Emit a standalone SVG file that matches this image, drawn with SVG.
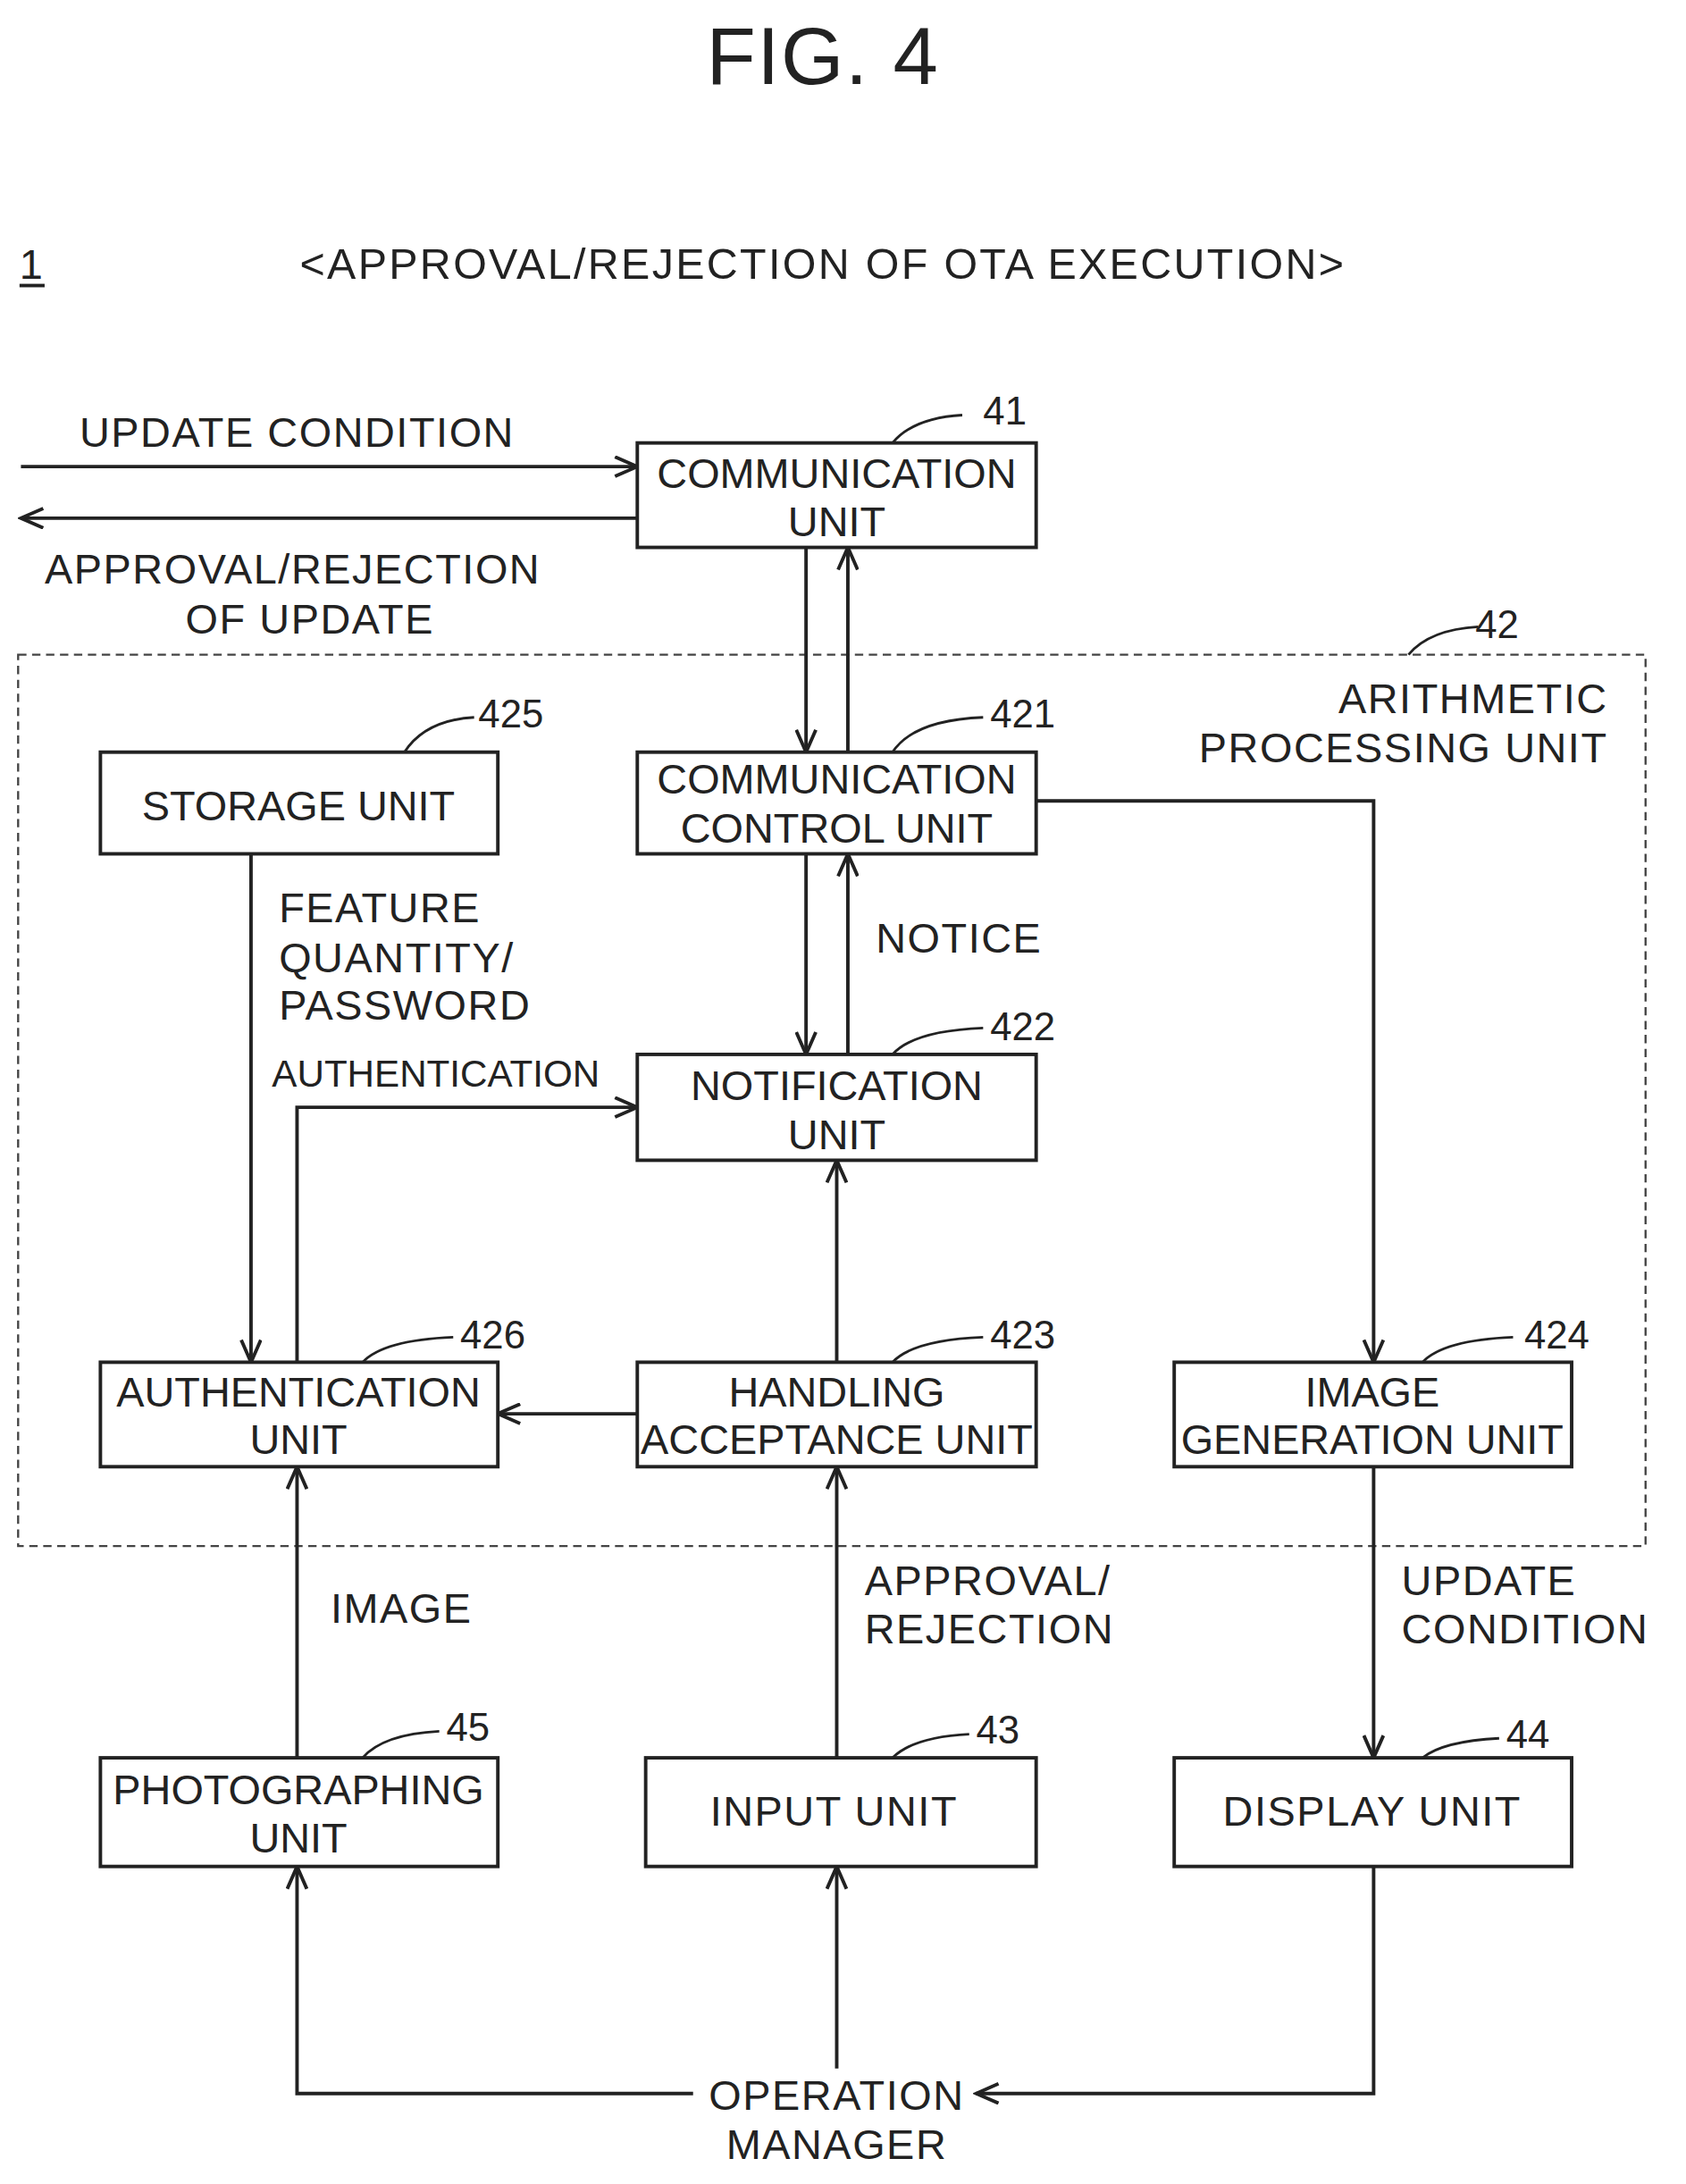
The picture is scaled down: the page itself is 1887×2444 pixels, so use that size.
<svg xmlns="http://www.w3.org/2000/svg" width="1887" height="2444" viewBox="0 0 1887 2444">
<style>
text{font-family:"Liberation Sans",Arial,sans-serif;fill:#222;font-size:30px;letter-spacing:1px}
.c{text-anchor:middle}
.box{fill:#fff;stroke:#222;stroke-width:2.5}
.ln{fill:none;stroke:#222;stroke-width:2.5}
.ld{fill:none;stroke:#222;stroke-width:1.8}
.ref{font-size:28px;letter-spacing:0}
.in{letter-spacing:0}
</style>
<defs>
<marker id="a" markerWidth="20" markerHeight="16" refX="18" refY="8" orient="auto" markerUnits="userSpaceOnUse">
<polyline points="2,1 18,8 2,15" fill="none" stroke="#222" stroke-width="2.5"/>
</marker>
</defs>
<rect width="1887" height="2444" fill="#fff"/>
<g transform="scale(1.5608,1.5587)">
<text x="590" y="60" class="c" style="font-size:58px">FIG. 4</text>
<text x="14" y="200">1</text>
<line x1="14" y1="205" x2="32" y2="205" class="ln" stroke-width="2"/>
<text x="590" y="200" class="c" style="font-size:31px;letter-spacing:1.5px">&lt;APPROVAL/REJECTION OF OTA EXECUTION&gt;</text>
<rect x="13" y="470" width="1167" height="640" fill="none" stroke="#444" stroke-width="1.5" stroke-dasharray="6,4"/>
<g id="conn">
<line x1="15" y1="335" x2="457" y2="335" class="ln" marker-end="url(#a)"/>
<line x1="457" y1="372" x2="15" y2="372" class="ln" marker-end="url(#a)"/>
<line x1="578" y1="393" x2="578" y2="540" class="ln" marker-end="url(#a)"/>
<line x1="608" y1="540" x2="608" y2="393" class="ln" marker-end="url(#a)"/>
<line x1="578" y1="613" x2="578" y2="757" class="ln" marker-end="url(#a)"/>
<line x1="608" y1="757" x2="608" y2="613" class="ln" marker-end="url(#a)"/>
<polyline points="743,575 985,575 985,978" class="ln" marker-end="url(#a)"/>
<line x1="180" y1="613" x2="180" y2="978" class="ln" marker-end="url(#a)"/>
<polyline points="213,978 213,795 457,795" class="ln" marker-end="url(#a)"/>
<line x1="600" y1="978" x2="600" y2="833" class="ln" marker-end="url(#a)"/>
<line x1="457" y1="1015" x2="357" y2="1015" class="ln" marker-end="url(#a)"/>
<line x1="213" y1="1262" x2="213" y2="1053" class="ln" marker-end="url(#a)"/>
<line x1="600" y1="1262" x2="600" y2="1053" class="ln" marker-end="url(#a)"/>
<line x1="985" y1="1053" x2="985" y2="1262" class="ln" marker-end="url(#a)"/>
<line x1="600" y1="1485" x2="600" y2="1340" class="ln" marker-end="url(#a)"/>
<polyline points="985,1340 985,1503 700,1503" class="ln" marker-end="url(#a)"/>
<polyline points="497,1503 213,1503 213,1340" class="ln" marker-end="url(#a)"/>
<path d="M640,318 Q655,300 690,298 M1010,470 Q1025,452 1060,450 M290,540 Q305,517 340,515 M640,540 Q655,517 705,515 M640,757 Q655,740 705,738 M260,978 Q275,962 325,960 M640,978 Q655,962 705,960 M1020,978 Q1035,962 1085,960 M260,1262 Q275,1245 315,1243 M640,1262 Q655,1247 695,1245 M1020,1262 Q1035,1250 1075,1248" class="ld"/>
</g>
<text x="57" y="321">UPDATE CONDITION</text>
<text x="32" y="419">APPROVAL/REJECTION</text>
<text x="133" y="455">OF UPDATE</text>
<text x="628" y="684">NOTICE</text>
<text x="200" y="662">FEATURE</text>
<text x="200" y="698">QUANTITY/</text>
<text x="200" y="732">PASSWORD</text>
<text x="195" y="780" style="font-size:27px;letter-spacing:0">AUTHENTICATION</text>
<text x="237" y="1165">IMAGE</text>
<text x="620" y="1145">APPROVAL/</text>
<text x="620" y="1180">REJECTION</text>
<text x="1005" y="1145">UPDATE</text>
<text x="1005" y="1180">CONDITION</text>
<text x="600" y="1515" class="c">OPERATION</text>
<text x="600" y="1550" class="c">MANAGER</text>
<text x="1153" y="512" style="text-anchor:end">ARITHMETIC</text>
<text x="1153" y="547" style="text-anchor:end">PROCESSING UNIT</text>
<text x="705" y="305" class="ref">41</text>
<text x="1058" y="458" class="ref">42</text>
<text x="343" y="522" class="ref">425</text>
<text x="710" y="522" class="ref">421</text>
<text x="710" y="747" class="ref">422</text>
<text x="330" y="968" class="ref">426</text>
<text x="710" y="968" class="ref">423</text>
<text x="1093" y="968" class="ref">424</text>
<text x="320" y="1250" class="ref">45</text>
<text x="700" y="1252" class="ref">43</text>
<text x="1080" y="1255" class="ref">44</text>
<g id="n41" class="in"><rect x="457" y="318" width="286" height="75" class="box"/><text x="600" y="350" class="c in">COMMUNICATION</text><text x="600" y="385" class="c in">UNIT</text></g>
<g id="n425"><rect x="72" y="540" width="285" height="73" class="box"/><text x="214" y="589" class="c in">STORAGE UNIT</text></g>
<g id="n421"><rect x="457" y="540" width="286" height="73" class="box"/><text x="600" y="570" class="c in">COMMUNICATION</text><text x="600" y="605" class="c in">CONTROL UNIT</text></g>
<g id="n422"><rect x="457" y="757" width="286" height="76" class="box"/><text x="600" y="790" class="c in">NOTIFICATION</text><text x="600" y="825" class="c in">UNIT</text></g>
<g id="n426"><rect x="72" y="978" width="285" height="75" class="box"/><text x="214" y="1010" class="c in">AUTHENTICATION</text><text x="214" y="1044" class="c in">UNIT</text></g>
<g id="n423"><rect x="457" y="978" width="286" height="75" class="box"/><text x="600" y="1010" class="c in">HANDLING</text><text x="600" y="1044" class="c in">ACCEPTANCE UNIT</text></g>
<g id="n424"><rect x="842" y="978" width="285" height="75" class="box"/><text x="984" y="1010" class="c in">IMAGE</text><text x="984" y="1044" class="c in">GENERATION UNIT</text></g>
<g id="n45"><rect x="72" y="1262" width="285" height="78" class="box"/><text x="214" y="1295" class="c in">PHOTOGRAPHING</text><text x="214" y="1330" class="c in">UNIT</text></g>
<g id="n43"><rect x="463" y="1262" width="280" height="78" class="box"/><text x="598" y="1311" class="c">INPUT UNIT</text></g>
<g id="n44"><rect x="842" y="1262" width="285" height="78" class="box"/><text x="984" y="1311" class="c">DISPLAY UNIT</text></g>
</g>
</svg>
